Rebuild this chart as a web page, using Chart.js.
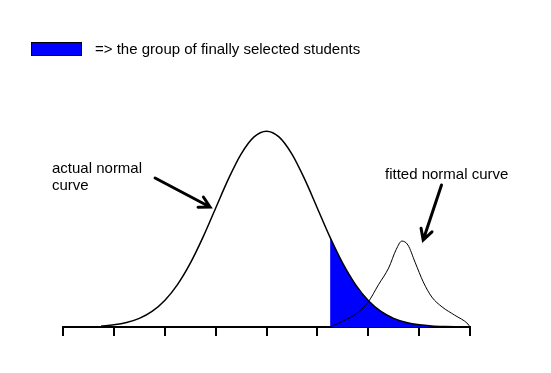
<!DOCTYPE html>
<html>
<head>
<meta charset="utf-8">
<script src="https://cdn.jsdelivr.net/npm/chart.js@4/dist/chart.umd.min.js"></script>
<style>
  html, body { margin: 0; padding: 0; background: #fff; }
  canvas { display: block; }
</style>
</head>
<body>
<canvas id="myChart" width="551" height="373"></canvas>
<script>
// score axis runs 0..8, one tick per unit
var tickValues = [0, 1, 2, 3, 4, 5, 6, 7, 8];

// actual normal curve
var actualX = [0.75, 1, 1.25, 1.5, 1.75, 2, 2.25, 2.5, 2.75, 3, 3.25, 3.5, 3.75, 4,
    4.25, 4.5, 4.75, 5, 5.25, 5.5, 5.75, 6, 6.25, 6.5, 6.75, 7, 7.25, 7.5, 7.75, 8];
var actualY = [0.002, 0.0044, 0.0091, 0.0175, 0.0317, 0.054, 0.0863, 0.1295, 0.1826, 0.242, 0.3011, 0.3521, 0.3867, 0.3989,
    0.3867, 0.3521, 0.3011, 0.242, 0.1826, 0.1295, 0.0863, 0.054, 0.0317, 0.0175, 0.0091, 0.0044, 0.002, 0.0009, 0.0004, 0.0001];

// selected group = tail of the actual curve, from the cut-off on
var cutOff = 5.25;

// fitted normal curve
var fittedX = [5.25, 5.5, 5.75, 6, 6.2, 6.4, 6.55, 6.66, 6.78, 6.92, 7.08, 7.25, 7.45, 7.7, 7.96, 8];
var fittedY = [0, 0.012, 0.026, 0.051, 0.086, 0.12, 0.158, 0.175, 0.167, 0.132, 0.092, 0.061, 0.041, 0.024, 0.006, 0];

function toPoints(xs, ys, from) {
    var pts = [];
    for (var i = 0; i < xs.length; i++) {
        if (from == null || xs[i] >= from) {
            pts.push({ x: xs[i], y: ys[i] });
        }
    }
    return pts;
}

const FONT = "Liberation Sans, Arial, sans-serif";

// texts, legend box and arrows
var notes = {
    id: "notes",
    afterDatasetsDraw: function (chart) {
        var ctx = chart.ctx;
        var xs = chart.scales.x, ys = chart.scales.y;
        ctx.save();

        // legend
        ctx.fillStyle = "#0000ff";
        ctx.fillRect(31, 42, 51, 14);
        ctx.strokeStyle = "#000";
        ctx.lineWidth = 1;
        ctx.strokeRect(31.5, 42.5, 50, 13);
        ctx.fillStyle = "#000";
        ctx.font = "15px " + FONT;
        ctx.textBaseline = "alphabetic";
        ctx.fillText("=> the group of finally selected students", 95, 54);

        ctx.fillText("actual normal", 52, 173);
        ctx.fillText("curve", 52, 190);
        ctx.fillText("fitted normal curve", 385, 179);

        function arrow(x0, y0, x1, y1) {
            var px0 = xs.getPixelForValue(x0), py0 = ys.getPixelForValue(y0);
            var px1 = xs.getPixelForValue(x1), py1 = ys.getPixelForValue(y1);
            var a = Math.atan2(py1 - py0, px1 - px0);
            var len = 12, spread = 0.5;
            ctx.strokeStyle = "#000";
            ctx.lineWidth = 3;
            ctx.lineCap = "round";
            ctx.beginPath();
            ctx.moveTo(px0, py0);
            ctx.lineTo(px1, py1);
            ctx.moveTo(px1 - len * Math.cos(a - spread), py1 - len * Math.sin(a - spread));
            ctx.lineTo(px1, py1);
            ctx.lineTo(px1 - len * Math.cos(a + spread), py1 - len * Math.sin(a + spread));
            ctx.stroke();
        }
        arrow(1.81, 0.3035, 2.89, 0.2444);
        arrow(7.44, 0.2892, 7.08, 0.1772);

        ctx.restore();
    }
};

var config = {
    type: "line",
    data: {
        datasets: [
            {
                label: "selected",
                data: toPoints(actualX, actualY, cutOff),
                borderWidth: 0,
                pointRadius: 0,
                backgroundColor: "#0000ff",
                fill: "origin",
                cubicInterpolationMode: "monotone",
                order: 3
            },
            {
                label: "actual normal curve",
                data: toPoints(actualX, actualY),
                borderColor: "#000",
                borderWidth: 1.5,
                pointRadius: 0,
                fill: false,
                cubicInterpolationMode: "monotone",
                order: 2
            },
            {
                label: "fitted normal curve",
                data: toPoints(fittedX, fittedY),
                borderColor: "#000",
                borderWidth: 1,
                pointRadius: 0,
                fill: false,
                cubicInterpolationMode: "monotone",
                order: 1
            }
        ]
    },
    options: {
        responsive: false,
        animation: false,
        layout: { padding: { left: 63, right: 81, top: 81.5, bottom: 37 } },
        plugins: { legend: { display: false }, tooltip: { enabled: false } },
        scales: {
            x: {
                type: "linear",
                min: tickValues[0],
                max: tickValues[tickValues.length - 1],
                afterBuildTicks: function (scale) {
                    scale.ticks = tickValues.map(function (v) { return { value: v }; });
                },
                border: { display: true, color: "#000", width: 2 },
                grid: { drawOnChartArea: false, drawTicks: true, tickLength: 9, color: "#000", lineWidth: 2 },
                ticks: { display: false }
            },
            y: {
                display: false,
                min: 0,
                max: 0.5
            }
        }
    },
    plugins: [notes]
};

var myChart = new Chart(document.getElementById("myChart"), config);
</script>
</body>
</html>
